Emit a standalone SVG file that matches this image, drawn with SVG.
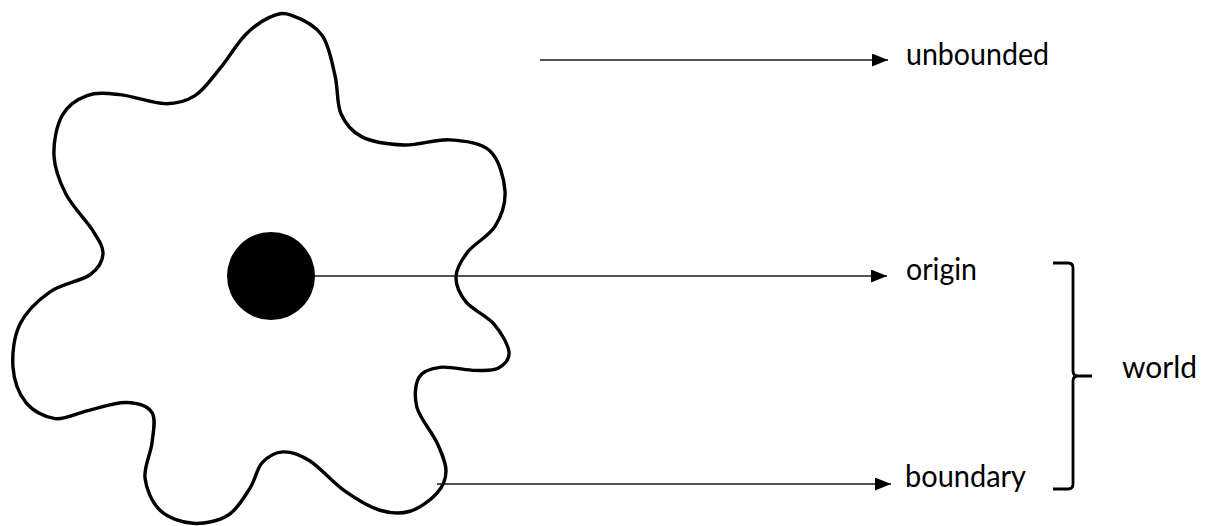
<svg xmlns="http://www.w3.org/2000/svg" width="1214" height="526" viewBox="0 0 1214 526">
<style>
.blob{fill:none;stroke:#000;stroke-width:3.4;stroke-linejoin:round}
.conn{stroke:#1a1a1a;stroke-width:1.7;fill:none}
.brace{fill:none;stroke:#000;stroke-width:2.8;stroke-linejoin:round}
.lbl{font-family:Lato,"Open Sans","Liberation Sans",sans-serif;font-size:30px;fill:#000}
</style>
<defs>
<marker id="arr" markerUnits="userSpaceOnUse" markerWidth="17" markerHeight="13" refX="16" refY="6.5" orient="auto">
<path d="M0,0 L16,6.5 L0,13 Z" fill="#000"/>
</marker>
</defs>
<rect width="1214" height="526" fill="#fff"/>
<g id="world-shape" transform="matrix(1 0 0 1.0064 0 0)">
<path class="blob" d="M291,15 C299.7,18 314.7,25 322,35 C329.3,45 331.8,62 335,75 C338.2,88 336.5,102.8 341,113 C345.5,123.2 351.5,130.8 362,136 C372.5,141.2 389.3,143.5 404,144 C418.7,144.5 435.7,138 450,139 C464.3,140 480.8,141.5 490,150 C499.2,158.5 504.2,177.5 505,190 C505.8,202.5 501.2,215 495,225 C488.8,235 474.5,241.7 468,250 C461.5,258.3 456.3,266.7 456,275 C455.7,283.3 459.7,292.2 466,300 C472.3,307.8 486.8,313.7 494,322 C501.2,330.3 508.3,342.7 509,350 C509.7,357.3 503.7,363 498,366 C492.3,369 484.7,368.2 475,368 C465.3,367.8 449.3,363.8 440,365 C430.7,366.2 422.8,368.3 419,375 C415.2,381.7 414,394.2 417,405 C420,415.8 432.2,429.5 437,440 C441.8,450.5 446,459.7 446,468 C446,476.3 443,483.3 437,490 C431,496.7 419.5,505.2 410,508 C400.5,510.8 390.8,510.3 380,507 C369.2,503.7 356.7,496.2 345,488 C333.3,479.8 320.3,464.5 310,458 C299.7,451.5 291,448.7 283,449 C275,449.3 267.5,454 262,460 C256.5,466 255.7,476.3 250,485 C244.3,493.7 237.5,506.2 228,512 C218.5,517.8 204.3,520.8 193,520 C181.7,519.2 168,514.5 160,507 C152,499.5 146.3,486.2 145,475 C143.7,463.8 150.8,450.8 152,440 C153.2,429.2 156.3,416.7 152,410 C147.7,403.3 136.7,400.3 126,400 C115.3,399.7 99.8,405.3 88,408 C76.2,410.7 65.3,417.3 55,416 C44.7,414.7 33,408.5 26,400 C19,391.5 14,378 13,365 C12,352 13.8,334.5 20,322 C26.2,309.5 38.3,298.2 50,290 C61.7,281.8 81.2,279.3 90,273 C98.8,266.7 102.7,259.5 103,252 C103.3,244.5 98.2,237.8 92,228 C85.8,218.2 72.3,205.2 66,193 C59.7,180.8 54.7,168 54,155 C53.3,142 56.5,125 62,115 C67.5,105 77.3,98.5 87,95 C96.7,91.5 107,92.7 120,94 C133,95.3 152.5,102.8 165,103 C177.5,103.2 185.8,100.8 195,95 C204.2,89.2 211.7,78 220,68 C228.3,58 236.7,43.5 245,35 C253.3,26.5 262.3,20.3 270,17 C277.7,13.7 282.3,12 291,15 Z"/>
</g>
<g id="origin-dot">
<circle cx="271" cy="276" r="44" fill="#000"/>
</g>
<g id="connectors">
<line class="conn" x1="540" y1="60" x2="888" y2="60" marker-end="url(#arr)"/>
<line class="conn" x1="315" y1="276" x2="887" y2="276" marker-end="url(#arr)"/>
<line class="conn" x1="437" y1="484" x2="891" y2="484" marker-end="url(#arr)"/>
</g>
<g id="world-brace">
<path class="brace" d="M1053,263 L1068,263 Q1073,263 1073,268 L1073,371 Q1073,376 1078,376 L1092,376 M1078,376 Q1073,376 1073,381 L1073,484 Q1073,489 1068,489 L1053,489"/>
</g>
<g id="label-unbounded"><text class="lbl" x="906" y="65" textLength="143" lengthAdjust="spacingAndGlyphs">unbounded</text></g>
<g id="label-origin"><text class="lbl" x="906" y="280" textLength="71" lengthAdjust="spacingAndGlyphs">origin</text></g>
<g id="label-boundary"><text class="lbl" x="905" y="487" textLength="121" lengthAdjust="spacingAndGlyphs">boundary</text></g>
<g id="label-world"><text class="lbl" x="1122" y="378" textLength="75" lengthAdjust="spacingAndGlyphs">world</text></g>
</svg>
